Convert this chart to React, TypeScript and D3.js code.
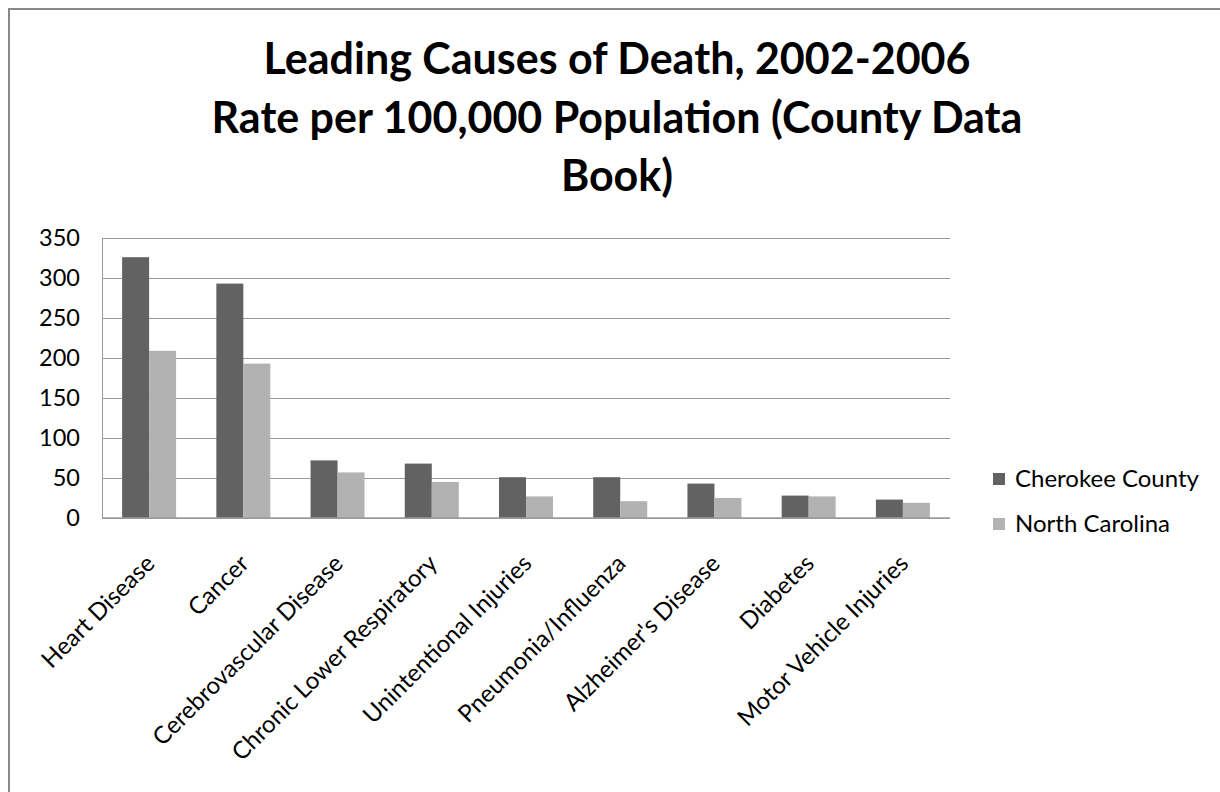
import React from "react";
import * as d3 from "d3";

const categories = [
  "Heart Disease",
  "Cancer",
  "Cerebrovascular Disease",
  "Chronic Lower Respiratory",
  "Unintentional Injuries",
  "Pneumonia/Influenza",
  "Alzheimer's Disease",
  "Diabetes",
  "Motor Vehicle Injuries",
];
const seriesNames = ["Cherokee County", "North Carolina"];
const cherokee = [326, 293, 72, 68, 51, 51, 43, 28, 23];
const northCarolina = [209, 193, 57, 45, 27, 21, 25, 27, 19];
const yTicks = [0, 50, 100, 150, 200, 250, 300, 350];
const titleLines = [
  "Leading Causes of Death, 2002-2006",
  "Rate per 100,000 Population (County Data",
  "Book)",
];
const colors = ["#626262", "#b2b2b2"];

const FONT = "Lato, 'Open Sans', sans-serif";

export default function App() {
  const W = 1220;
  const H = 792;
  const left = 102;
  const right = 950;
  const top = 238;
  const bottom = 518;

  const x = d3
    .scaleBand<string>()
    .domain(categories)
    .range([left, right])
    .paddingInner(0.427)
    .paddingOuter(0.2135);
  const xs = d3
    .scaleBand<string>()
    .domain(seriesNames)
    .range([0, x.bandwidth()]);
  const y = d3.scaleLinear().domain([0, 350]).range([bottom, top]);

  const data = [cherokee, northCarolina];

  return (
    <svg
      width={W}
      height={H}
      style={{ position: "absolute", left: 0, top: 0, display: "block", background: "#fff" }}
    >
      <rect x={0} y={0} width={W} height={H} fill="#fff" />
      {/* outer border */}
      <line x1={8} y1={9} x2={W} y2={9} stroke="#888" strokeWidth={2} />
      <line x1={9} y1={8} x2={9} y2={H} stroke="#888" strokeWidth={2} />

      {/* title */}
      <g fontFamily={FONT} fontWeight="bold" fontSize={43} fill="#000" textAnchor="middle">
        {titleLines.map((t, i) => (
          <text key={i} x={617} y={74 + i * 58.5}>
            {t}
          </text>
        ))}
      </g>

      {/* gridlines */}
      <g>
        {yTicks.map((t) => (
          <line
            key={t}
            x1={left}
            x2={right}
            y1={y(t)}
            y2={y(t)}
            stroke="#9a9a9a"
            strokeWidth={1}
            shapeRendering="crispEdges"
          />
        ))}
        <line x1={left} x2={left} y1={top} y2={bottom} stroke="#9a9a9a" strokeWidth={1} shapeRendering="crispEdges" />
      </g>

      {/* bars */}
      {seriesNames.map((s, si) => (
        <g key={s} fill={colors[si]}>
          {categories.map((c, ci) => (
            <rect
              key={c}
              x={(x(c) as number) + (xs(s) as number)}
              y={y(data[si][ci])}
              width={xs.bandwidth()}
              height={bottom - y(data[si][ci])}
            />
          ))}
        </g>
      ))}
      <line x1={left} x2={right} y1={bottom} y2={bottom} stroke="#9a9a9a" strokeWidth={1.5} />

      {/* y tick labels */}
      <g fontFamily={FONT} fontSize={23.5} fill="#000" textAnchor="end">
        {yTicks.map((t) => (
          <text key={t} x={80} y={y(t) + 8.3}>
            {t}
          </text>
        ))}
      </g>

      {/* x labels */}
      <g fontFamily={FONT} fontSize={24} fill="#000" textAnchor="end">
        {categories.map((c) => {
          const cx = (x(c) as number) + x.bandwidth() / 2;
          return (
            <text key={c} transform={`translate(${cx + 7},${565}) rotate(-45)`}>
              {c}
            </text>
          );
        })}
      </g>

      {/* legend */}
      <g fontFamily={FONT} fontSize={24} fill="#000">
        {seriesNames.map((s, i) => (
          <g key={s} transform={`translate(993,${473 + i * 45})`}>
            <rect x={0} y={0} width={12} height={12} fill={colors[i]} />
            <text x={22} y={14}>
              {s}
            </text>
          </g>
        ))}
      </g>
    </svg>
  );
}
